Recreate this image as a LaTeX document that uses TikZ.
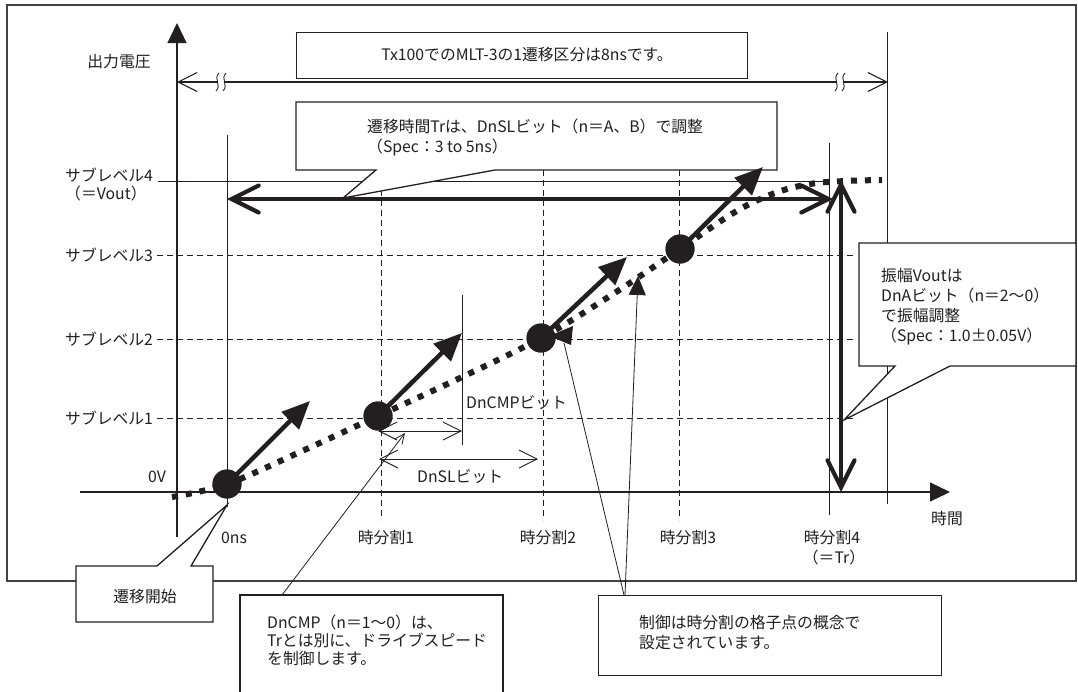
\documentclass[tikz,border=0pt]{standalone}
\usepackage{fontspec}
\setmainfont{Noto Sans CJK JP}
\usetikzlibrary{arrows.meta}
\definecolor{ink}{HTML}{231F20}
\begin{document}
\begin{tikzpicture}[x=1pt,y=-1pt,
  font=\fontsize{15.8}{20}\selectfont,
  every node/.style={text=ink, inner sep=0pt},
  fline/.style={draw=ink, line width=1pt},
  gridline/.style={draw=ink, line width=1pt, dash pattern=on 6pt off 4pt},
  boxed/.style={draw=ink, line width=1.3pt, fill=white, line join=miter},
  fatarrow/.style={draw=ink, line width=4.5pt, -{Triangle[length=28pt,width=24pt]}},
  bigbarb/.style={draw=ink, line width=4.2pt,
     {Straight Barb[length=27pt,width=27pt,line cap=round]}-{Straight Barb[length=27pt,width=27pt,line cap=round]}},
  smallbarb/.style={draw=ink, line width=0.9pt,
     {Straight Barb[length=18pt,width=18pt]}-{Straight Barb[length=18pt,width=18pt]}},
  axisarrow/.style={draw=ink, line width=1.2pt, -{Triangle[length=20pt,width=19pt]}},
  dotcurve/.style={draw=ink, line width=6pt, dash pattern=on 6pt off 8pt},
  gridpt/.style={circle, fill=ink, minimum size=29pt, inner sep=0pt},
  lbl/.style={anchor=west},
  breakmark/.style={draw=ink, line width=0.9pt}
]
\useasboundingbox (0,0) rectangle (1078,691);
\fill[white] (0,0) rectangle (1078,691);

% outer frame
\draw[draw=ink!85, line width=1.5pt] (7,5) rectangle (1076,581);

% named coordinates
\coordinate (yb) at (177,537); \coordinate (yt) at (177,23);
\coordinate (xl) at (80,492);  \coordinate (xr) at (950,492);
\coordinate (brl) at (177,82); \coordinate (brr) at (888,82);
\coordinate (rv1) at (887,32); \coordinate (rv2) at (887,504);
\coordinate (s4a) at (158,181); \coordinate (s4b) at (830,181);
\coordinate (t0a) at (227,135); \coordinate (t0b) at (227,507);
\coordinate (t4a) at (829,143); \coordinate (t4b) at (829,515);

% axes
\draw[axisarrow] (yb) -- (yt);
\draw[axisarrow] (xl) -- (xr);

% thin solid guides
\draw[fline] (rv1) -- (rv2);
\draw[fline] (s4a) -- (s4b);
\draw[fline] (t0a) -- (t0b);
\draw[fline] (t4a) -- (t4b);

% dashed grid
\foreach \yy/\nm in {255/s3,339/s2,418/s1}{
  \coordinate (\nm a) at (157,\yy); \coordinate (\nm b) at (857,\yy);
  \draw[gridline] (\nm a) -- (\nm b);
}
\foreach \xx/\nm in {381/t1,543/t2,679/t3}{
  \coordinate (\nm a) at (\xx,170); \coordinate (\nm b) at (\xx,520);
  \draw[gridline] (\nm a) -- (\nm b);
}

% top bracket with break marks
\draw[draw=ink, line width=1.1pt, {Straight Barb[length=19pt,width=19pt]}-{Straight Barb[length=19pt,width=19pt]}] (brl) -- (brr);
\foreach \bx in {217,836}{
  \fill[white] (\bx+1,79) rectangle (\bx+8,85);
  \draw[breakmark] (\bx+2,73) .. controls (\bx-4,79) and (\bx+5,85) .. (\bx-1,91);
  \draw[breakmark] (\bx+9,73) .. controls (\bx+3,79) and (\bx+12,85) .. (\bx+6,91);
}

% Box 1
\node[boxed, minimum width=451pt, minimum height=46pt, anchor=north west] (box1) at (296,32) {};
\node (box1t) at (527,55) {Tx100でのMLT-3の1遷移区分は8nsです。};

% Box 2 callout
\coordinate (b2tip) at (343,198);
\draw[boxed] (296,102) -- (777,102) -- (777,170) -- (495,170) -- (b2tip) -- (376,170) -- (296,170) -- cycle;
\node[lbl, align=left] (box2t) at (367,138) {遷移時間Trは、DnSLビット（n＝A、B）で調整\\（Spec：3 to 5ns）};

% left labels
\node[lbl] (l4) at (65,175) {サブレベル4};
\node[lbl] (l4b) at (65,193) {（＝Vout）};
\node[lbl] (l3) at (65,255) {サブレベル3};
\node[lbl] (l2) at (65,339) {サブレベル2};
\node[lbl] (l1) at (65,418) {サブレベル1};
\node[lbl] (l0) at (148,477) {0V};
\node (ylab) at (119,62) {出力電圧};

% bottom labels
\node (tl0) at (234,538) {0ns};
\node (tl1) at (386,538) {時分割1};
\node (tl2) at (548,538) {時分割2};
\node (tl3) at (688,538) {時分割3};
\node (tl4) at (832,538) {時分割4};
\node (tl4b) at (834,557) {（＝Tr）};
\node (xlab) at (947,518) {時間};

% DnCMP / DnSL dimension arrows
\coordinate (cmpv1) at (462,295); \coordinate (cmpv2) at (462,445);
\draw[fline] (cmpv1) -- (cmpv2);
\coordinate (cmpl) at (378,431); \coordinate (cmpr) at (462,431);
\draw[smallbarb] (cmpl) -- (cmpr);
\coordinate (sll) at (379,459); \coordinate (slr) at (538,459);
\draw[smallbarb] (sll) -- (slr);
\node[lbl] (cmplab) at (466,403) {DnCMPビット};
\node[lbl] (sllab) at (417,477) {DnSLビット};

% dotted transition curve
\draw[dotcurve] plot[smooth, tension=0.6] coordinates {(172,497) (227,484) (300,452) (378,416) (460,378) (541,338) (610,296) (680,249) (735,212) (775,193) (810,184) (845,181) (882,180)};

% grid point dots
\node[gridpt] (d0) at (227,484) {};
\node[gridpt] (d1) at (378,416) {};
\node[gridpt] (d2) at (541,338) {};
\node[gridpt] (d3) at (680,249) {};

% thick slope arrows
\coordinate (a0) at (310,401);
\coordinate (a1) at (462,333);
\coordinate (a2) at (627,257);
\coordinate (a3) at (763,167);
\draw[fatarrow] (d0.center) -- (a0);
\draw[fatarrow] (d1.center) -- (a1);
\draw[fatarrow] (d2.center) -- (a2);
\draw[fatarrow] (d3.center) -- (a3);
\fill[ink] (d0) circle (14.5pt);
\fill[ink] (d1) circle (14.5pt);
\fill[ink] (d2) circle (14.5pt);
\fill[ink] (d3) circle (14.5pt);

% Tr and Vout double arrows
\coordinate (trl) at (227,199); \coordinate (trr) at (833,199);
\draw[bigbarb] (trl) -- (trr);
\coordinate (vt) at (841,180); \coordinate (vb) at (841,492);
\draw[bigbarb] (vt) -- (vb);

% Vout callout
\coordinate (vtip) at (844,420);
\draw[boxed] (859,243) -- (1076,243) -- (1076,366) -- (950,366) -- (vtip) -- (895,366) -- (859,366) -- cycle;
\node[lbl, align=left] (voutt) at (881,307) {振幅Voutは\\DnAビット（n＝2〜0）\\で振幅調整\\（Spec：1.0±0.05V）};

% 遷移開始 callout
\coordinate (stip) at (227,505);
\draw[boxed] (76,566) -- (157,566) -- (stip) -- (191,566) -- (213,566) -- (213,622) -- (76,622) -- cycle;
\node (startt) at (145,597) {遷移開始};

% DnCMP box
\fill[white] (240,595) rectangle (503,692);
\draw[draw=ink, line width=1.3pt] (240,692) -- (240,595) -- (503,595) -- (503,692);
\node[lbl, align=left, font=\fontsize{15.8}{18}\selectfont] (cmpt) at (267,640) {DnCMP（n＝1〜0）は、\\Trとは別に、ドライブスピード\\を制御します。};
\coordinate (cmpp0) at (282,595); \coordinate (cmpp1) at (405,433);
\draw[draw=ink, line width=0.8pt, -{Straight Barb[length=10pt,width=9pt]}] (cmpp0) -- (cmpp1);

% 制御 box
\node[boxed, minimum width=343pt, minimum height=80pt, anchor=north west] (ctlbox) at (598,595) {};
\node[lbl, align=left] (ctlt) at (639,633) {制御は時分割の格子点の概念で\\設定されています。};
\coordinate (cp0) at (625,595); \coordinate (cp1) at (638,276);
\draw[draw=ink, line width=0.8pt, -{Triangle[length=19pt,width=17pt]}] (cp0) -- (cp1);
\coordinate (cq0) at (624,595); \coordinate (cq1) at (564,343);
\draw[draw=ink, line width=0.8pt] (cq0) -- (cq1);
\coordinate (cqt) at (549,336);
\fill[ink] (cqt) -- (573,326) -- (571,345) -- cycle;
\end{tikzpicture}
\end{document}
